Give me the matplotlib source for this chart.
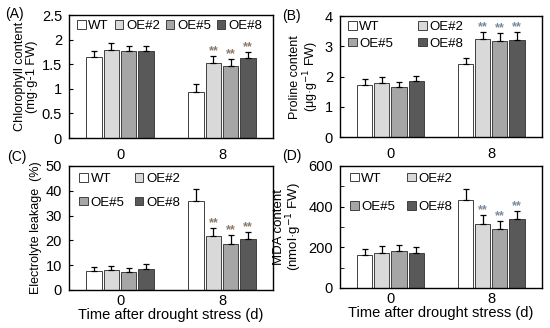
import numpy as np
import matplotlib
matplotlib.use("Agg")
from matplotlib import pyplot as plt
from matplotlib.patches import Patch

plt.rcParams['font.family'] = ['Liberation Sans', 'DejaVu Sans']
plt.rcParams['font.size'] = 10

lines = ["WT", "OE#2", "OE#5", "OE#8"]
days = ["0", "8"]
colors = ["white", "#d9d9d9", "#a6a6a6", "#595959"]

chl = [[1.65, 1.80, 1.77, 1.76], [0.93, 1.53, 1.47, 1.63]]
chl_err = [[0.12, 0.14, 0.10, 0.12], [0.16, 0.14, 0.14, 0.12]]
pro = [[1.73, 1.79, 1.65, 1.86], [2.43, 3.23, 3.16, 3.22]]
pro_err = [[0.18, 0.18, 0.18, 0.16], [0.17, 0.25, 0.29, 0.26]]
el = [[7.7, 7.9, 7.4, 8.3], [35.8, 21.9, 18.4, 20.4]]
el_err = [[1.7, 1.9, 1.6, 2.3], [5.1, 3.2, 3.9, 3.1]]
mda = [[163, 171, 180, 171], [432, 315, 288, 337]]
mda_err = [[27, 37, 31, 29], [57, 44, 40, 40]]
signif = [[False] * 4, [False, True, True, True]]

fig = plt.figure(figsize=(5.5, 3.28), dpi=100)

def panel(rect, vals, errs, ylim, yticks, ylabel, ylab_size, tag, tag_xy, star_col,
          leg_cols, leg_pos, col_sp, row_sp, minor=None, xlabel=None, xpad=6):
    ax = fig.add_axes(rect)
    width, step = 0.15, 0.17
    offs = (np.arange(4) - 1.5) * step
    x = np.arange(len(days))
    for i in range(4):
        v = [vals[d][i] for d in range(2)]
        e = [errs[d][i] for d in range(2)]
        ax.bar(x + offs[i], v, width, color=colors[i], edgecolor="#404040",
               linewidth=0.7, zorder=2)
        ax.errorbar(x + offs[i], v, yerr=[[0, 0], e], fmt="none", ecolor="black",
                    elinewidth=0.9, capsize=2.2, capthick=0.9, zorder=3)
        for d in range(2):
            if signif[d][i]:
                ax.text(x[d] + offs[i], v[d] + e[d] - ylim[1] * 0.01, "**",
                        ha="center", va="bottom", color=star_col, fontsize=9,
                        fontweight="bold")
    ax.set_xlim(-0.5, 1.5)
    ax.set_ylim(*ylim)
    ax.set_yticks(yticks)
    ax.set_yticklabels([("%g" % t) for t in yticks])
    if minor is not None:
        ax.set_yticks(minor, minor=True)
    ax.set_xticks(x)
    ax.set_xticklabels(days)
    ax.tick_params(axis="x", length=0, pad=xpad, labelsize=10.5)
    ax.tick_params(axis="y", which="both", direction="in", length=3, pad=5,
                   labelsize=10.5)
    for s in ax.spines.values():
        s.set_linewidth(1.0)
    ax.set_ylabel(ylabel, fontsize=ylab_size, linespacing=1.0, labelpad=3)
    if xlabel:
        ax.set_xlabel(xlabel, fontsize=10.5, labelpad=0)
    handles = [Patch(facecolor=c, edgecolor="#404040", linewidth=0.7) for c in colors]
    labels = list(lines)
    if leg_cols == 2:
        order = [0, 2, 1, 3]
        handles = [handles[k] for k in order]
        labels = [labels[k] for k in order]
    ax.legend(handles, labels, ncol=leg_cols, frameon=False, loc="upper left",
              bbox_to_anchor=leg_pos, handlelength=0.65, handleheight=0.65,
              handletextpad=0.2, columnspacing=col_sp, labelspacing=row_sp,
              fontsize=9.5, borderaxespad=0, borderpad=0)
    fig.text(tag_xy[0], tag_xy[1], tag, fontsize=10, ha="left", va="center")
    return ax

panel([0.1255, 0.579, 0.371, 0.375], chl, chl_err, (0, 2.5), [0, 0.5, 1, 1.5, 2, 2.5],
      "Chlorophyll content\n(mg·g-1 FW)", 9.2, "(A)", (0.009, 0.956), "#8c7b6b",
      4, (0.04, 0.96), 0.45, 0.4, xpad=7)
panel([0.618, 0.582, 0.367, 0.369], pro, pro_err, (0, 4), [0, 1, 2, 3, 4],
      "Proline content\n(μg·g$^{-1}$ FW)", 9, "(B)", (0.513, 0.950), "#7b8a9c",
      2, (0.04, 0.96), 1.9, 0.35, xpad=7)
panel([0.1255, 0.116, 0.371, 0.378], el, el_err, (0, 50), [0, 10, 20, 30, 40, 50],
      "Electrolyte leakage  (%)", 9, "(C)", (0.013, 0.521), "#8c7b6b",
      2, (0.05, 0.94), 0.8, 0.85, xlabel="Time after drought stress (d)", xpad=3)
panel([0.618, 0.122, 0.367, 0.372], mda, mda_err, (0, 600), [0, 200, 400, 600],
      "MDA content\n(nmol·g$^{-1}$ FW)", 9.5, "(D)", (0.513, 0.524), "#7b8a9c",
      2, (0.05, 0.945), 0.9, 1.25, minor=[100, 300, 500],
      xlabel="Time after drought stress (d)", xpad=3)

fig.savefig("out.png", dpi=100)
